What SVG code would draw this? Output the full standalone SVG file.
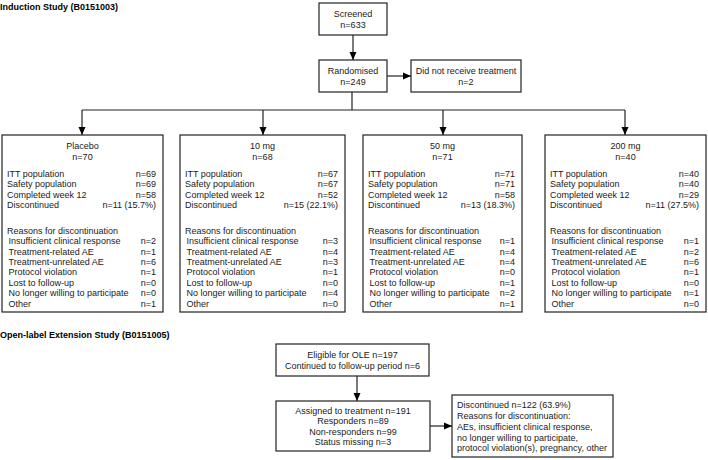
<svg xmlns="http://www.w3.org/2000/svg" width="708" height="460" viewBox="0 0 708 460">
<defs>
<marker id="ah" markerWidth="8" markerHeight="8" refX="8" refY="4" orient="auto" markerUnits="userSpaceOnUse">
<path d="M0,0.5 L8,4 L0,7.5 Z" fill="#000"/>
</marker>
<style>
text{font-family:"Liberation Sans",Arial,sans-serif;font-size:9px;fill:#1a1a1a}
.h{font-weight:bold;fill:#000}
.m{text-anchor:middle}
.e{text-anchor:end}
rect{fill:#fff;stroke:#222;stroke-width:1.2}
.c{stroke:#222;stroke-width:1.2;fill:none}
</style>
</defs>
<rect x="0" y="0" width="708" height="460" style="stroke:none"/>
<text class="h" x="0" y="10">Induction Study (B0151003)</text>
<text class="h" x="0" y="338">Open-label Extension Study (B0151005)</text>

<g id="connectors">
<line class="c" x1="353" y1="35" x2="353" y2="60" marker-end="url(#ah)"/>
<line class="c" x1="387" y1="76" x2="411" y2="76" marker-end="url(#ah)"/>
<polyline class="c" points="352,92 352,110"/>
<line class="c" x1="82" y1="110" x2="625" y2="110"/>
<line class="c" x1="82" y1="110" x2="82" y2="135" marker-end="url(#ah)"/>
<line class="c" x1="263" y1="110" x2="263" y2="135" marker-end="url(#ah)"/>
<line class="c" x1="443" y1="110" x2="443" y2="135" marker-end="url(#ah)"/>
<line class="c" x1="625" y1="110" x2="625" y2="135" marker-end="url(#ah)"/>
<line class="c" x1="357" y1="376" x2="357" y2="401" marker-end="url(#ah)"/>
<line class="c" x1="430" y1="426" x2="452" y2="426" marker-end="url(#ah)"/>
</g>

<g id="screened">
<rect x="319" y="3" width="68" height="32"/>
<text class="m" x="353" y="17">Screened</text>
<text class="m" x="353" y="27.5">n=633</text>
</g>
<g id="randomised">
<rect x="319" y="60" width="68" height="32"/>
<text class="m" x="353" y="74">Randomised</text>
<text class="m" x="353" y="84.5">n=249</text>
</g>
<g id="notreated">
<rect x="411" y="60" width="110" height="32"/>
<text class="m" x="466" y="74">Did not receive treatment</text>
<text class="m" x="466" y="84.5">n=2</text>
</g>

<g id="placebo">
<rect x="2" y="135" width="161" height="177"/>
<text class="m" x="82.5" y="149.2">Placebo</text>
<text class="m" x="82.5" y="160.2">n=70</text>
<text x="7" y="176.7">ITT population</text><text class="e" x="156" y="176.7">n=69</text>
<text x="7" y="187.1">Safety population</text><text class="e" x="156" y="187.1">n=69</text>
<text x="7" y="197.5">Completed week 12</text><text class="e" x="156" y="197.5">n=58</text>
<text x="7" y="207.9">Discontinued</text><text class="e" x="156" y="207.9">n=11 (15.7%)</text>
<text x="7" y="233.7">Reasons for discontinuation</text>
<text x="8.5" y="244.1">Insufficient clinical response</text><text class="e" x="156" y="244.1">n=2</text>
<text x="8.5" y="254.5">Treatment-related AE</text><text class="e" x="156" y="254.5">n=1</text>
<text x="8.5" y="264.9">Treatment-unrelated AE</text><text class="e" x="156" y="264.9">n=6</text>
<text x="8.5" y="275.3">Protocol violation</text><text class="e" x="156" y="275.3">n=1</text>
<text x="8.5" y="285.7">Lost to follow-up</text><text class="e" x="156" y="285.7">n=0</text>
<text x="8.5" y="296.1">No longer willing to participate</text><text class="e" x="156" y="296.1">n=0</text>
<text x="8.5" y="306.5">Other</text><text class="e" x="156" y="306.5">n=1</text>
</g>

<g id="dose10">
<rect x="180" y="135" width="165" height="177"/>
<text class="m" x="262.5" y="149.2">10 mg</text>
<text class="m" x="262.5" y="160.2">n=68</text>
<text x="185" y="176.7">ITT population</text><text class="e" x="338" y="176.7">n=67</text>
<text x="185" y="187.1">Safety population</text><text class="e" x="338" y="187.1">n=67</text>
<text x="185" y="197.5">Completed week 12</text><text class="e" x="338" y="197.5">n=52</text>
<text x="185" y="207.9">Discontinued</text><text class="e" x="338" y="207.9">n=15 (22.1%)</text>
<text x="185" y="233.7">Reasons for discontinuation</text>
<text x="186.5" y="244.1">Insufficient clinical response</text><text class="e" x="338" y="244.1">n=3</text>
<text x="186.5" y="254.5">Treatment-related AE</text><text class="e" x="338" y="254.5">n=4</text>
<text x="186.5" y="264.9">Treatment-unrelated AE</text><text class="e" x="338" y="264.9">n=3</text>
<text x="186.5" y="275.3">Protocol violation</text><text class="e" x="338" y="275.3">n=1</text>
<text x="186.5" y="285.7">Lost to follow-up</text><text class="e" x="338" y="285.7">n=0</text>
<text x="186.5" y="296.1">No longer willing to participate</text><text class="e" x="338" y="296.1">n=4</text>
<text x="186.5" y="306.5">Other</text><text class="e" x="338" y="306.5">n=0</text>
</g>

<g id="dose50">
<rect x="363" y="135" width="159" height="177"/>
<text class="m" x="442.5" y="149.2">50 mg</text>
<text class="m" x="442.5" y="160.2">n=71</text>
<text x="368" y="176.7">ITT population</text><text class="e" x="515" y="176.7">n=71</text>
<text x="368" y="187.1">Safety population</text><text class="e" x="515" y="187.1">n=71</text>
<text x="368" y="197.5">Completed week 12</text><text class="e" x="515" y="197.5">n=58</text>
<text x="368" y="207.9">Discontinued</text><text class="e" x="515" y="207.9">n=13 (18.3%)</text>
<text x="368" y="233.7">Reasons for discontinuation</text>
<text x="369.5" y="244.1">Insufficient clinical response</text><text class="e" x="515" y="244.1">n=1</text>
<text x="369.5" y="254.5">Treatment-related AE</text><text class="e" x="515" y="254.5">n=4</text>
<text x="369.5" y="264.9">Treatment-unrelated AE</text><text class="e" x="515" y="264.9">n=4</text>
<text x="369.5" y="275.3">Protocol violation</text><text class="e" x="515" y="275.3">n=0</text>
<text x="369.5" y="285.7">Lost to follow-up</text><text class="e" x="515" y="285.7">n=1</text>
<text x="369.5" y="296.1">No longer willing to participate</text><text class="e" x="515" y="296.1">n=2</text>
<text x="369.5" y="306.5">Other</text><text class="e" x="515" y="306.5">n=1</text>
</g>

<g id="dose200">
<rect x="545" y="135" width="161" height="177"/>
<text class="m" x="625.5" y="149.2">200 mg</text>
<text class="m" x="625.5" y="160.2">n=40</text>
<text x="550" y="176.7">ITT population</text><text class="e" x="699" y="176.7">n=40</text>
<text x="550" y="187.1">Safety population</text><text class="e" x="699" y="187.1">n=40</text>
<text x="550" y="197.5">Completed week 12</text><text class="e" x="699" y="197.5">n=29</text>
<text x="550" y="207.9">Discontinued</text><text class="e" x="699" y="207.9">n=11 (27.5%)</text>
<text x="550" y="233.7">Reasons for discontinuation</text>
<text x="551.5" y="244.1">Insufficient clinical response</text><text class="e" x="699" y="244.1">n=1</text>
<text x="551.5" y="254.5">Treatment-related AE</text><text class="e" x="699" y="254.5">n=2</text>
<text x="551.5" y="264.9">Treatment-unrelated AE</text><text class="e" x="699" y="264.9">n=6</text>
<text x="551.5" y="275.3">Protocol violation</text><text class="e" x="699" y="275.3">n=1</text>
<text x="551.5" y="285.7">Lost to follow-up</text><text class="e" x="699" y="285.7">n=0</text>
<text x="551.5" y="296.1">No longer willing to participate</text><text class="e" x="699" y="296.1">n=1</text>
<text x="551.5" y="306.5">Other</text><text class="e" x="699" y="306.5">n=0</text>
</g>

<g id="eligible">
<rect x="276" y="344" width="153" height="32"/>
<text class="m" x="352.5" y="358">Eligible for OLE n=197</text>
<text class="m" x="352.5" y="368.5">Continued to follow-up period n=6</text>
</g>
<g id="assigned">
<rect x="276" y="401" width="154" height="50"/>
<text class="m" x="353" y="414">Assigned to treatment n=191</text>
<text class="m" x="353" y="424.3">Responders n=89</text>
<text class="m" x="353" y="434.6">Non-responders n=99</text>
<text class="m" x="353" y="444.9">Status missing n=3</text>
</g>
<g id="discontinued">
<rect x="452" y="395" width="161" height="62"/>
<text x="457" y="408.2">Discontinued n=122 (63.9%)</text>
<text x="457" y="419">Reasons for discontinuation:</text>
<text x="457" y="429.7">AEs, insufficient clinical response,</text>
<text x="457" y="440.5">no longer willing to participate,</text>
<text x="457" y="451.2">protocol violation(s), pregnancy, other</text>
</g>
</svg>
